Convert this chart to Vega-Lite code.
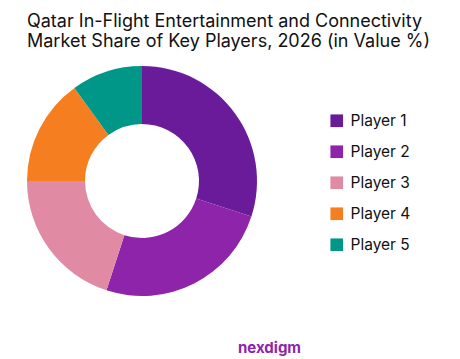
{
  "$schema": "https://vega.github.io/schema/vega-lite/v6.json",
  "padding": {"left": 27, "top": 13, "right": 0, "bottom": 0},
  "background": "white",
  "title": {
    "text": ["Qatar In-Flight Entertainment and Connectivity", "Market Share of Key Players, 2026 (in Value %)"],
    "anchor": "start",
    "font": "Inter",
    "fontSize": 18,
    "fontWeight": "normal",
    "color": "#111111",
    "lineHeight": 20,
    "offset": 15
  },
  "config": {"view": {"stroke": null}},
  "spacing": 45,
  "vconcat": [
    {
      "width": 230,
      "height": 230,
      "data": {
        "values": [
          {"player": "Player 1", "share": 30},
          {"player": "Player 2", "share": 25},
          {"player": "Player 3", "share": 20},
          {"player": "Player 4", "share": 15},
          {"player": "Player 5", "share": 10}
        ]
      },
      "mark": {"type": "arc", "outerRadius": 115, "innerRadius": 57},
      "encoding": {
        "theta": {"field": "share", "type": "quantitative", "stack": true},
        "color": {
          "field": "player",
          "type": "nominal",
          "scale": {
            "domain": ["Player 1", "Player 2", "Player 3", "Player 4", "Player 5"],
            "range": ["#6A1B9A", "#8E24AA", "#E08AA3", "#F57F20", "#009688"]
          },
          "legend": {
            "title": null,
            "orient": "none",
            "legendX": 302,
            "legendY": 47,
            "symbolType": "square",
            "symbolSize": 160,
            "symbolStrokeWidth": 0,
            "labelFont": "Inter",
            "labelFontSize": 15.5,
            "labelColor": "#111111",
            "labelOffset": 6,
            "rowPadding": 14
          }
        },
        "order": {"field": "player", "type": "nominal"}
      }
    },
    {
      "width": 422,
      "height": 14,
      "data": {"values": [{"brand": "nexdigm"}]},
      "mark": {"type": "text", "align": "left", "baseline": "middle", "font": "Inter", "fontSize": 15, "fontWeight": "bold", "color": "#8E24AA"},
      "encoding": {"text": {"field": "brand", "type": "nominal"}}
    }
  ]
}
